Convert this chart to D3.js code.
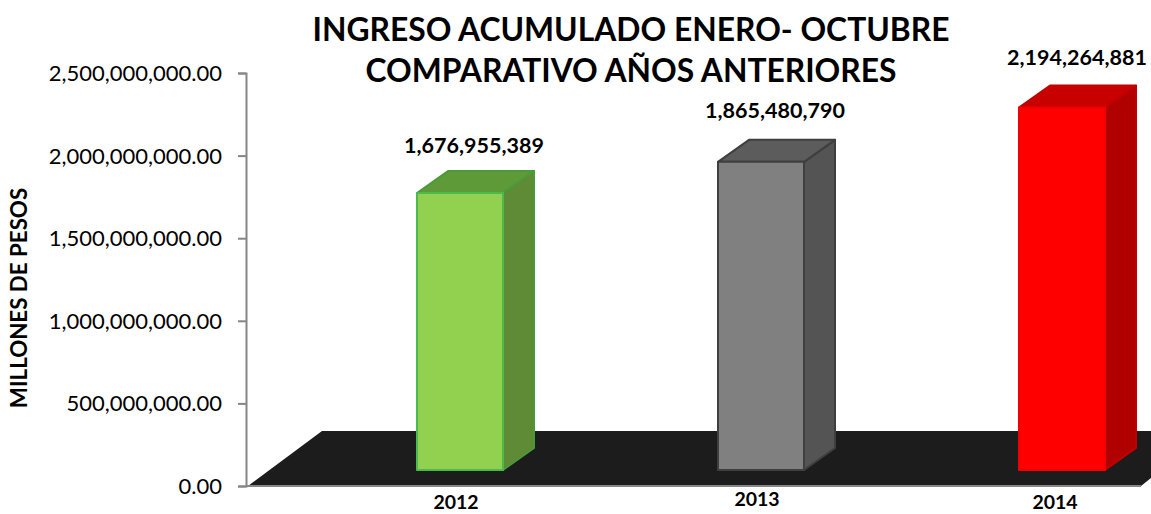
<!DOCTYPE html>
<html>
<head>
<meta charset="utf-8">
<title>Ingreso acumulado</title>
<script src="https://d3js.org/d3.v7.min.js"></script>
<style>
	html, body { margin: 0; padding: 0; background: #fff; }
	text { font-family: Lato, "Open Sans", sans-serif; fill: #000; }
	.soft { filter: blur(0.6px); }
</style>
</head>
<body>
<div id="chart"></div>
<script>
var years = ["2012", "2013", "2014"];
var ingreso = [1676955389, 1865480790, 2194264881];
var ingresoLabels = ["1,676,955,389", "1,865,480,790", "2,194,264,881"];
var yTicks = [0, 500000000, 1000000000, 1500000000, 2000000000, 2500000000];
var titleLines = ["INGRESO ACUMULADO ENERO- OCTUBRE", "COMPARATIVO AÑOS ANTERIORES"];
var yTitle = "MILLONES DE PESOS";
var frontColors = ["#92d050", "#808080", "#ff0000"];
var topColors = ["#5f9a38", "#5c5c5c", "#c80000"];
var sideColors = ["#5f8a36", "#545454", "#b00000"];
var edgeColors = ["#4cbb4c", "#3f3f3f", "#f00000"];
var backEdgeColors = ["#4a9a3a", "#3f3f3f", "#c00000"];

var width = 1151, height = 514;
var svg = d3.select("#chart").append("svg")
	.attr("width", width)
	.attr("height", height)
	.style("display", "block");

var y = d3.scaleLinear().domain([0, 2500000000]).range([486, 73]);
var x = d3.scalePoint().domain(years).range([460, 1062]);

// 3d look of the excel chart
var barW = 86, depthX = 31, depthY = 22, baseLift = 16;

// floor
var floorTop = 431;
svg.append("path")
	.attr("class", "soft")
	.attr("d", "M248," + y(0) + "L" + (248 + 74) + "," + floorTop + "H" + width + "V478L1141," + y(0) + "Z")
	.attr("fill", "#1c1c1c");

// axis
var axis = d3.axisLeft(y)
	.tickValues(yTicks)
	.tickSize(8)
	.tickPadding(16)
	.tickFormat(d3.format(",.2f"));
var gy = svg.append("g").attr("transform", "translate(246,0)").call(axis);
gy.selectAll("text").style("font-size", "22px").attr("dy", "0.34em");
gy.selectAll("line").attr("stroke", "#868686").attr("stroke-width", 2);
gy.select(".domain").attr("stroke", "#868686").attr("stroke-width", 2);
svg.append("line")
	.attr("x1", 246).attr("x2", 1141)
	.attr("y1", y(0)).attr("y2", y(0))
	.attr("stroke", "#868686").attr("stroke-width", 2);

// bars
years.forEach(function(year, i) {
	var left = x(year) - barW / 2;
	var right = left + barW;
	var bottom = y(0) - baseLift;
	var top = bottom - (y(0) - y(ingreso[i]));
	var g = svg.append("g")
		.attr("class", "soft")
		.attr("stroke-width", 2)
		.attr("stroke-linejoin", "round");

	g.append("path")
		.attr("d", "M" + right + "," + top + "l" + depthX + "," + (-depthY) + "V" + (bottom - depthY) + "L" + right + "," + bottom + "Z")
		.attr("stroke", backEdgeColors[i])
		.attr("fill", sideColors[i]);
	g.append("path")
		.attr("d", "M" + left + "," + top + "l" + depthX + "," + (-depthY) + "H" + (right + depthX) + "L" + right + "," + top + "Z")
		.attr("stroke", backEdgeColors[i])
		.attr("fill", topColors[i]);
	g.append("rect")
		.attr("x", left).attr("y", top)
		.attr("width", barW).attr("height", bottom - top)
		.attr("stroke", edgeColors[i])
		.attr("fill", frontColors[i]);
});

// labels were placed by hand in the original, so nudge them
var labelNudgeX = [14, 14, 15];
var labelNudgeY = [-40, -44, -43];
svg.selectAll(".valor")
	.data(ingreso)
	.enter().append("text")
	.attr("class", "valor")
	.attr("x", function(d, i) { return x(years[i]) + labelNudgeX[i]; })
	.attr("y", function(d, i) { return y(d) - baseLift + labelNudgeY[i]; })
	.attr("text-anchor", "middle")
	.style("font-size", "21.5px")
	.style("font-weight", "bold")
	.text(function(d, i) { return ingresoLabels[i]; });

var yearNudgeX = [-4, -4, -7];
var yearY = [509, 506, 509];
svg.selectAll(".year")
	.data(years)
	.enter().append("text")
	.attr("class", "year")
	.attr("x", function(d, i) { return x(d) + yearNudgeX[i]; })
	.attr("y", function(d, i) { return yearY[i]; })
	.attr("text-anchor", "middle")
	.style("font-size", "19.5px")
	.style("font-weight", "bold")
	.text(function(d) { return d; });

svg.selectAll(".title")
	.data(titleLines)
	.enter().append("text")
	.attr("class", "title")
	.attr("x", 631)
	.attr("y", function(d, i) { return 41 + i * 41; })
	.attr("text-anchor", "middle")
	.style("font-size", "31.8px")
	.style("font-weight", "bold")
	.text(function(d) { return d; });

svg.append("text")
	.attr("transform", "translate(27,298) rotate(-90)")
	.attr("text-anchor", "middle")
	.style("font-size", "22.3px")
	.style("font-weight", "bold")
	.text(yTitle);
</script>
</body>
</html>
